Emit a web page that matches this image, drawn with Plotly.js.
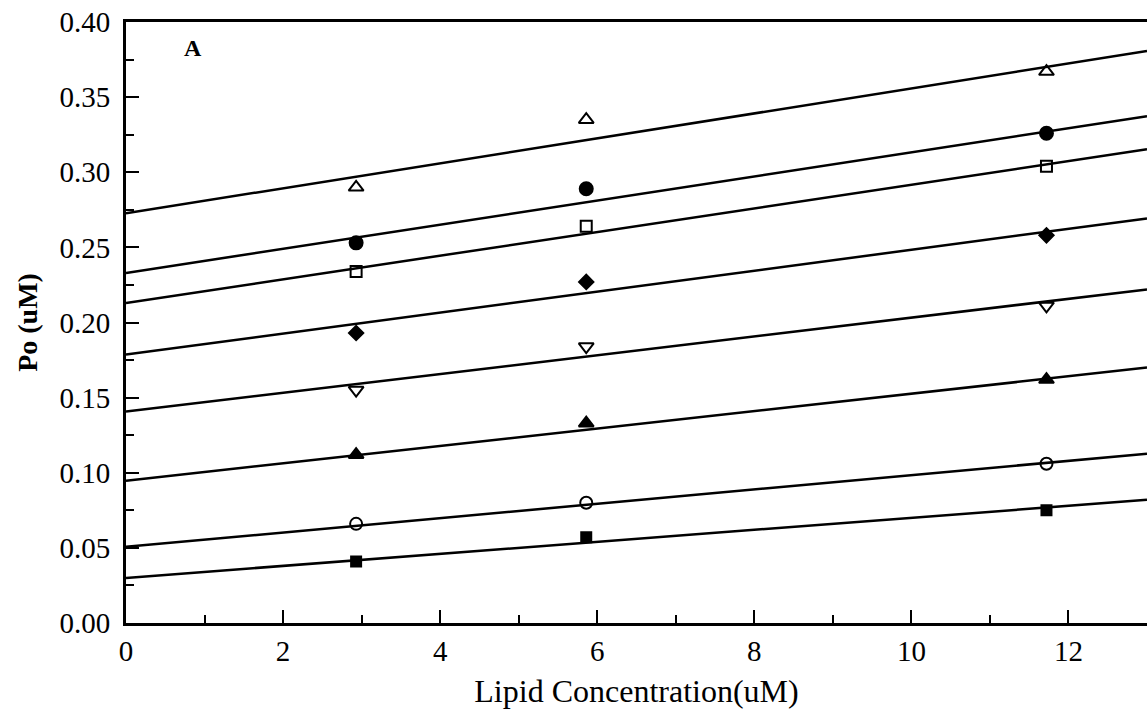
<!DOCTYPE html>
<html>
<head>
<meta charset="utf-8">
<script src="https://cdn.plot.ly/plotly-3.0.1.min.js"></script>
<style>html,body{margin:0;padding:0;background:#fff;}#chart{width:1147px;height:723px;}</style>
</head>
<body>
<div id="chart"></div>
<script>
// Lipid concentrations (uM) at which Po was measured
const lipidConc = [2.93, 5.86, 11.72];

// Measured Po (uM) for each series, top to bottom
const seriesOpenTriUp   = [0.290, 0.335, 0.367];
const seriesFilledCirc  = [0.253, 0.289, 0.326];
const seriesOpenSquare  = [0.234, 0.264, 0.304];
const seriesFilledDiam  = [0.193, 0.227, 0.258];
const seriesOpenTriDown = [0.155, 0.184, 0.211];
const seriesFilledTriUp = [0.112, 0.133, 0.162];
const seriesOpenCirc    = [0.066, 0.080, 0.106];
const seriesFilledSq    = [0.041, 0.057, 0.075];

// Fitted regression lines: Po at x = 0 and x = 13
const fitX     = [0, 13];
const fitStart = [0.2727, 0.233, 0.213, 0.1787, 0.1407, 0.0947, 0.0507, 0.030];
const fitEnd   = [0.3807, 0.3373, 0.3153, 0.2693, 0.222, 0.170, 0.1127, 0.082];

const yTickVals = [0, 0.05, 0.10, 0.15, 0.20, 0.25, 0.30, 0.35, 0.40];
const xTickVals = [0, 2, 4, 6, 8, 10, 12];

const series = [
  {y: seriesOpenTriUp,   symbol: 'triangle-up-open',   size: 13},
  {y: seriesFilledCirc,  symbol: 'circle',             size: 13},
  {y: seriesOpenSquare,  symbol: 'square-open',        size: 11},
  {y: seriesFilledDiam,  symbol: 'diamond',            size: 11},
  {y: seriesOpenTriDown, symbol: 'triangle-down-open', size: 13},
  {y: seriesFilledTriUp, symbol: 'triangle-up',        size: 13},
  {y: seriesOpenCirc,    symbol: 'circle-open',        size: 12},
  {y: seriesFilledSq,    symbol: 'square',             size: 10}
];

const traces = [];
fitStart.forEach((s, i) => {
  traces.push({
    x: fitX, y: [s, fitEnd[i]], mode: 'lines', type: 'scatter',
    line: {color: '#000', width: 2.5}, hoverinfo: 'skip', showlegend: false
  });
});
series.forEach(s => {
  traces.push({
    x: lipidConc, y: s.y, mode: 'markers', type: 'scatter', showlegend: false,
    marker: {symbol: s.symbol, size: s.size, color: '#000', line: {color: '#000', width: 2}}
  });
});

const serif = 'Liberation Serif, Times New Roman, serif';

const layout = {
  width: 1147, height: 723,
  margin: {l: 126, r: 0, t: 22, b: 100},
  paper_bgcolor: '#fff', plot_bgcolor: '#fff',
  font: {family: serif, color: '#000'},
  xaxis: {
    range: [0, 13], showgrid: false, zeroline: false,
    showline: true, linecolor: '#000', linewidth: 3, mirror: true,
    tickvals: xTickVals, ticktext: xTickVals.map(String),
    ticks: 'inside', ticklen: 13, tickwidth: 2, tickcolor: '#000',
    minor: {dtick: 1, tick0: 0, ticks: 'inside', ticklen: 8, tickwidth: 2, tickcolor: '#000'},
    tickfont: {family: serif, size: 29, color: '#000'},
    ticklabelstandoff: 0,
    title: {text: 'Lipid Concentration(uM)', font: {family: serif, size: 32, color: '#000'}, standoff: 14},
    automargin: false
  },
  yaxis: {
    range: [0, 0.40], showgrid: false, zeroline: false,
    showline: true, linecolor: '#000', linewidth: 3,
    tickvals: yTickVals, ticktext: yTickVals.map(v => v.toFixed(2)),
    ticks: 'inside', ticklen: 13, tickwidth: 2, tickcolor: '#000',
    minor: {dtick: 0.025, tick0: 0, ticks: 'inside', ticklen: 8, tickwidth: 2, tickcolor: '#000'},
    tickfont: {family: serif, size: 29, color: '#000'},
    ticklabelstandoff: 7,
    title: {text: '<b>Po (uM)</b>', font: {family: serif, size: 28, color: '#000'}, standoff: 14},
    automargin: false
  },
  annotations: [
    {x: 0.85, y: 0.383, xref: 'x', yref: 'y', text: '<b>A</b>', showarrow: false,
     font: {family: serif, size: 24, color: '#000'}}
  ]
};

Plotly.newPlot('chart', traces, layout, {displayModeBar: false, staticPlot: true});
</script>
</body>
</html>
